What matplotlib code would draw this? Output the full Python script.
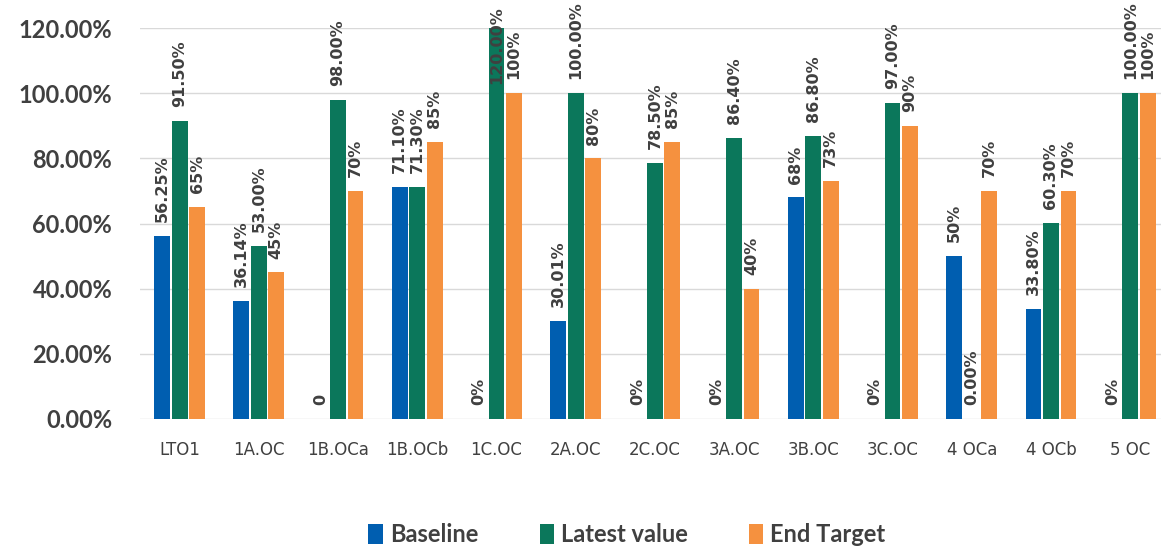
import numpy as np
import matplotlib
matplotlib.use("Agg")
import matplotlib.pyplot as plt

categories = ["LTO1", "1A.OC", "1B.OCa", "1B.OCb", "1C.OC", "2A.OC", "2C.OC",
              "3A.OC", "3B.OC", "3C.OC", "4 OCa", "4 OCb", "5 OC"]

baseline = [56.25, 36.14, 0, 71.10, 0, 30.01, 0, 0, 68, 0, 50, 33.80, 0]
latest = [91.50, 53.00, 98.00, 71.30, 120.00, 100.00, 78.50, 86.40, 86.80, 97.00, 0.00, 60.30, 100.00]
target = [65, 45, 70, 85, 100, 80, 85, 40, 73, 90, 70, 70, 100]

baseline_labels = ["56.25%", "36.14%", "0", "71.10%", "0%", "30.01%", "0%", "0%", "68%", "0%", "50%", "33.80%", "0%"]
latest_labels = ["91.50%", "53.00%", "98.00%", "71.30%", "120.00%", "100.00%", "78.50%", "86.40%",
                 "86.80%", "97.00%", "0.00%", "60.30%", "100.00%"]
target_labels = ["65%", "45%", "70%", "85%", "100%", "80%", "85%", "40%", "73%", "90%", "70%", "70%", "100%"]

colors = ["#005EB0", "#0B775B", "#F5913F"]
txt = "#404040"

fig = plt.figure(figsize=(11.61, 5.51), dpi=100)
ax = fig.add_axes([0.1206, 0.2396, 0.887, 0.7094])

x = np.arange(len(categories))
w = 0.2
off = 0.22
series = [("Baseline", baseline, baseline_labels),
          ("Latest value", latest, latest_labels),
          ("End Target", target, target_labels)]

ymax = 120
for i, (name, vals, labs) in enumerate(series):
    pos = x + (i - 1) * off
    ax.bar(pos, vals, width=w, color=colors[i], label=name, zorder=2)
    for px, v, lab in zip(pos, vals, labs):
        if v >= ymax:
            # label of the bar that runs off the top sits over the bar
            ax.annotate(lab, (px, ymax), xytext=(0, 16), textcoords="offset points",
                        rotation=90, ha="center", va="top", fontsize=11.5,
                        fontweight="bold", color=txt, zorder=3, annotation_clip=False)
        else:
            ax.annotate(lab, (px, v), xytext=(0, 10), textcoords="offset points",
                        rotation=90, ha="center", va="bottom", fontsize=11.5,
                        fontweight="bold", color=txt, zorder=3, annotation_clip=False)

ax.set_xlim(-0.5, len(categories) - 0.5)
ax.set_ylim(0, ymax)
ax.set_yticks(np.arange(0, 121, 20))
ax.set_yticklabels(["%.2f%%" % t for t in np.arange(0, 121, 20)],
                   fontsize=17, fontweight="bold", color=txt,
                   family=["Lato", "DejaVu Sans"])
ax.set_xticks(x)
ax.set_xticklabels(categories, fontsize=12, color=txt)
ax.tick_params(length=0)
ax.tick_params(axis="x", pad=16)
ax.tick_params(axis="y", pad=20)
ax.grid(axis="y", color="#D9D9D9", linewidth=1, zorder=0)
for s in ax.spines.values():
    s.set_visible(False)

fig.legend(loc="lower center", bbox_to_anchor=(0.54, -0.03), ncol=3, frameon=False,
           prop={"size": 17, "weight": "bold", "family": ["Lato", "DejaVu Sans"]},
           labelcolor=txt, handlelength=0.6, handleheight=0.9, handletextpad=0.3,
           columnspacing=2.6)

fig.savefig("out.png", dpi=100)
